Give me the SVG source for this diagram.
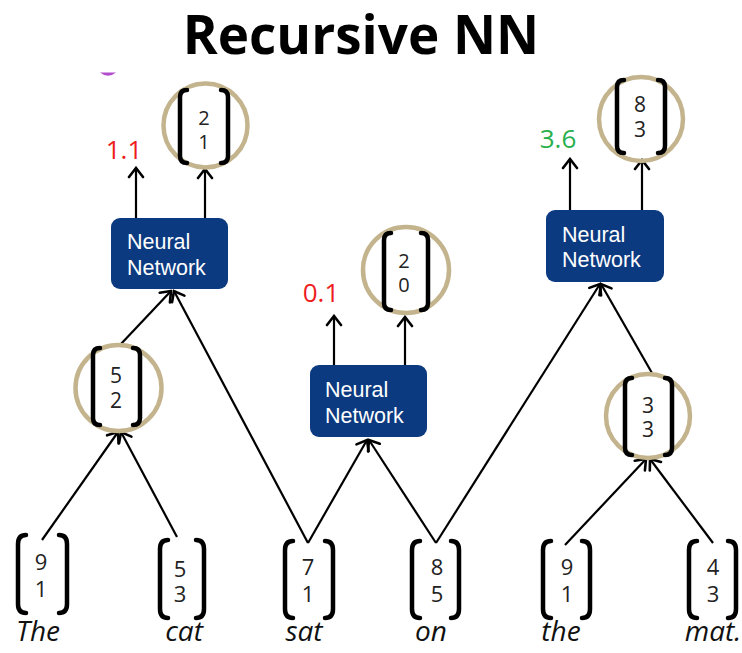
<svg xmlns="http://www.w3.org/2000/svg" width="742" height="653" viewBox="0 0 742 653">
  <style>
    .title { font-family: "Open Sans", "Liberation Sans", sans-serif; font-weight: bold; font-size: 53px; fill: #000; }
    .nn rect { fill: #0c3a80; }
    .nn text { font-family: "Liberation Sans", Arial, sans-serif; font-size: 21.5px; fill: #fff; }
    .ring { fill: none; stroke: #c3b48d; stroke-width: 4.5; }
    .br { fill: none; stroke: #000; stroke-width: 4.5; stroke-linecap: round; stroke-linejoin: round; }
    .num { font-family: "Open Sans", "Liberation Sans", sans-serif; font-size: 20px; fill: #222; text-anchor: middle; }
    .num.big { font-size: 21px; }
    .num.low { font-size: 22px; }
    .word { font-family: "Open Sans", "Liberation Sans", sans-serif; font-style: italic; font-size: 28px; fill: #111; text-anchor: middle; }
    .score { font-family: "Open Sans", "Liberation Sans", sans-serif; font-size: 26px; text-anchor: middle; }
    .edge { stroke: #000; stroke-width: 2.2; fill: none; marker-end: url(#arrow); }
  </style>
  <defs>
    <marker id="arrow" markerUnits="userSpaceOnUse" viewBox="-12 -10 14 20" markerWidth="14" markerHeight="20" refX="0" refY="0" orient="auto">
      <path d="M-9,-7 L0,0 L-9,7" fill="none" stroke="#000" stroke-width="2.6" stroke-linecap="round" stroke-linejoin="miter"/>
    </marker>
  </defs>

  <rect width="742" height="653" fill="#fff"/>

  <text class="title" x="361" y="54" text-anchor="middle">Recursive NN</text>

  <!-- small purple mark under the title -->
  <path d="M100,72.5 Q108,79 116,72.5 Z" fill="#b24ccc"/>

  <!-- connectors -->
  <g id="connectors">
    <line class="edge" x1="136" y1="218" x2="136" y2="168"/>
    <line class="edge" x1="205" y1="218" x2="205" y2="169"/>
    <line class="edge" x1="334" y1="365" x2="334" y2="316"/>
    <line class="edge" x1="405" y1="365" x2="405" y2="317"/>
    <line class="edge" x1="570" y1="210" x2="570" y2="159"/>
    <line class="edge" x1="642" y1="210" x2="642" y2="160"/>
    <line class="edge" x1="120" y1="345" x2="171" y2="291"/>
    <line class="edge" x1="308" y1="543" x2="174" y2="291"/>
    <line class="edge" x1="308" y1="543" x2="367" y2="440"/>
    <line class="edge" x1="436" y1="543" x2="369" y2="440"/>
    <line class="edge" x1="436" y1="543" x2="600" y2="284"/>
    <line class="edge" x1="652" y1="373" x2="601" y2="284"/>
    <line class="edge" x1="42" y1="540" x2="118" y2="432"/>
    <line class="edge" x1="177" y1="537" x2="121" y2="432"/>
    <line class="edge" x1="565" y1="545" x2="646" y2="459"/>
    <line class="edge" x1="713" y1="543" x2="650" y2="459"/>
  </g>

  <!-- neural network boxes -->
  <g id="nn-left" class="nn">
    <rect x="111" y="218" width="117" height="71" rx="9"/>
    <text x="127" y="249">Neural</text>
    <text x="127" y="275">Network</text>
  </g>
  <g id="nn-middle" class="nn">
    <rect x="310" y="365" width="117" height="72" rx="9"/>
    <text x="325" y="397">Neural</text>
    <text x="325" y="423">Network</text>
  </g>
  <g id="nn-right" class="nn">
    <rect x="546" y="210" width="118" height="72" rx="9"/>
    <text x="562" y="242">Neural</text>
    <text x="562" y="267">Network</text>
  </g>

  <!-- scores -->
  <g id="score-left"><text class="score" x="124" y="159" fill="#ee1c1c">1.1</text></g>
  <g id="score-middle"><text class="score" x="321" y="302" fill="#ee1c1c">0.1</text></g>
  <g id="score-right"><text class="score" x="558" y="148" fill="#27b04b">3.6</text></g>

  <!-- composed vectors (circled) -->
  <g id="vec-21">
    <circle class="ring" cx="205.5" cy="125.5" r="42"/>
    <path class="br" d="M187,90 Q180,90 180,97 L180,156 Q180,163 187,163"/>
    <path class="br" d="M221,90 Q228,90 228,97 L228,156 Q228,163 221,163"/>
    <text class="num" x="204" y="125">2</text>
    <text class="num" x="204" y="149">1</text>
  </g>
  <g id="vec-20">
    <circle class="ring" cx="406" cy="270" r="43"/>
    <path class="br" d="M391,233 Q384,233 384,240 L384,303 Q384,310 391,310"/>
    <path class="br" d="M421,233 Q428,233 428,240 L428,303 Q428,310 421,310"/>
    <text class="num" x="404" y="268">2</text>
    <text class="num" x="404" y="292">0</text>
  </g>
  <g id="vec-83">
    <circle class="ring" cx="641" cy="119" r="42"/>
    <path class="br" d="M624,80 Q617,80 617,87 L617,146 Q617,153 624,153"/>
    <path class="br" d="M658,80 Q665,80 665,87 L665,146 Q665,153 658,153"/>
    <text class="num big" x="640" y="112">8</text>
    <text class="num big" x="640" y="137">3</text>
  </g>
  <g id="vec-52">
    <circle class="ring" cx="118.5" cy="388" r="43"/>
    <path class="br" d="M100,348 Q93,348 93,355 L93,418 Q93,425 100,425"/>
    <path class="br" d="M133,348 Q140,348 140,355 L140,418 Q140,425 133,425"/>
    <text class="num big" x="116" y="383">5</text>
    <text class="num big" x="116" y="408">2</text>
  </g>
  <g id="vec-33">
    <circle class="ring" cx="648" cy="416" r="42"/>
    <path class="br" d="M632,378 Q625,378 625,385 L625,448 Q625,455 632,455"/>
    <path class="br" d="M665,378 Q672,378 672,385 L672,448 Q672,455 665,455"/>
    <text class="num big" x="648" y="413">3</text>
    <text class="num big" x="648" y="437">3</text>
  </g>

  <!-- word vectors -->
  <g id="word-the1">
    <path class="br" d="M26,535 Q18,535 18,544 L18,604 Q18,613 26,613"/>
    <path class="br" d="M59,535 Q67,535 67,544 L67,604 Q67,613 59,613"/>
    <text class="num low" x="41" y="570">9</text>
    <text class="num low" x="41" y="597">1</text>
    <text class="word" x="38" y="641">The</text>
  </g>
  <g id="word-cat">
    <path class="br" d="M168,540 Q160,540 160,549 L160,609 Q160,618 168,618"/>
    <path class="br" d="M196,540 Q204,540 204,549 L204,609 Q204,618 196,618"/>
    <text class="num low" x="180" y="577">5</text>
    <text class="num low" x="180" y="602">3</text>
    <text class="word" x="184" y="641">cat</text>
  </g>
  <g id="word-sat">
    <path class="br" d="M293,541 Q285,541 285,550 L285,609 Q285,618 293,618"/>
    <path class="br" d="M325,541 Q333,541 333,550 L333,609 Q333,618 325,618"/>
    <text class="num low" x="308" y="575">7</text>
    <text class="num low" x="308" y="602">1</text>
    <text class="word" x="304" y="641">sat</text>
  </g>
  <g id="word-on">
    <path class="br" d="M420,541 Q412,541 412,550 L412,609 Q412,618 420,618"/>
    <path class="br" d="M451,541 Q459,541 459,550 L459,609 Q459,618 451,618"/>
    <text class="num low" x="437" y="575">8</text>
    <text class="num low" x="437" y="602">5</text>
    <text class="word" x="431" y="641">on</text>
  </g>
  <g id="word-the2">
    <path class="br" d="M551,541 Q543,541 543,550 L543,609 Q543,618 551,618"/>
    <path class="br" d="M582,541 Q590,541 590,550 L590,609 Q590,618 582,618"/>
    <text class="num low" x="567" y="575">9</text>
    <text class="num low" x="567" y="602">1</text>
    <text class="word" x="561" y="641">the</text>
  </g>
  <g id="word-mat">
    <path class="br" d="M697,541 Q689,541 689,550 L689,609 Q689,618 697,618"/>
    <path class="br" d="M728,541 Q736,541 736,550 L736,609 Q736,618 728,618"/>
    <text class="num low" x="713" y="575">4</text>
    <text class="num low" x="713" y="602">3</text>
    <text class="word" x="713" y="641">mat.</text>
  </g>
</svg>
